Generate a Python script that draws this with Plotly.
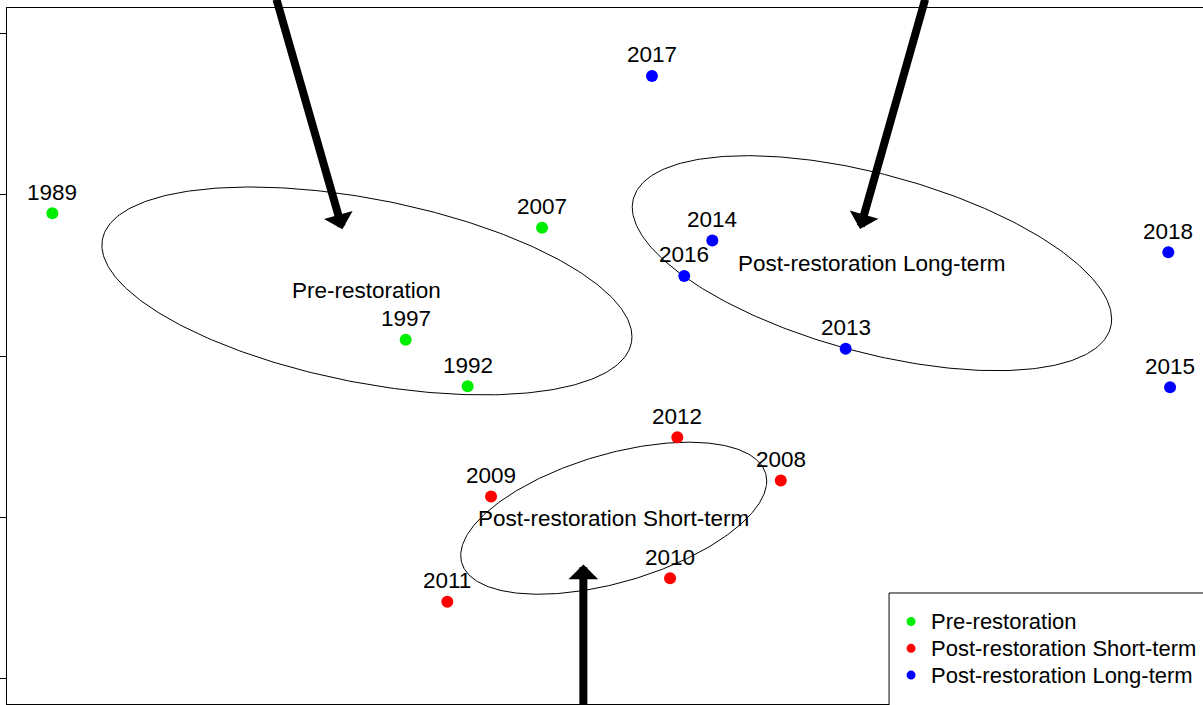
import numpy as np
import plotly.graph_objects as go

# ---------------- data (NMDS-like ordination scores) ----------------
groups = ["Pre-restoration", "Post-restoration Short-term", "Post-restoration Long-term"]
colors = ["#00ee00", "#ff0000", "#0000ff"]

pre_years = ["1989", "2007", "1997", "1992"]
pre_x = [-3.424, -0.390, -1.235, -0.851]
pre_y = [0.885, 0.796, 0.102, -0.186]

short_years = ["2012", "2008", "2010", "2009", "2011"]
short_x = [0.448, 1.089, 0.403, -0.706, -0.977]
short_y = [-0.502, -0.771, -1.376, -0.870, -1.521]

long_years = ["2017", "2014", "2016", "2013", "2018", "2015"]
long_x = [0.291, 0.665, 0.491, 1.491, 3.490, 3.501]
long_y = [1.736, 0.716, 0.497, 0.046, 0.644, -0.193]

# ellipse parameters: centre x, centre y, sd x, sd y, correlation
ell_cx = [-1.475, 0.054, 1.654]
ell_cy = [0.404, -1.004, 0.576]
ell_sx = [1.642, 0.948, 1.485]
ell_sy = [0.644, 0.471, 0.666]
ell_r = [-0.44, 0.49, -0.52]

# arrows: tail (x0, y0) -> head (x1, y1)
arrow_x0 = [-2.038, 1.986, -0.134]
arrow_y0 = [2.219, 2.219, -2.172]
arrow_x1 = [-1.627, 1.580, -0.134]
arrow_y1 = [0.786, 0.788, -1.290]

y_ticks = [-2, -1, 0, 1, 2]
x_range = [-3.705, 3.705]
y_range = [-2.155, 2.157]

FONT = "Liberation Sans, Arial, sans-serif"
FS = 22.5
LEG_FS = 22

fig = go.Figure()

series = [(pre_x, pre_y, pre_years), (short_x, short_y, short_years), (long_x, long_y, long_years)]

# ellipses
t = np.linspace(0, 2 * np.pi, 361)
for i in range(3):
    ex = ell_cx[i] + ell_sx[i] * np.cos(t)
    ey = ell_cy[i] + ell_sy[i] * (ell_r[i] * np.cos(t) + np.sqrt(1 - ell_r[i] ** 2) * np.sin(t))
    fig.add_trace(go.Scatter(x=ex, y=ey, mode="lines", line=dict(color="black", width=1),
                             showlegend=False, hoverinfo="skip"))

# points
for (xs, ys, yrs), name, col in zip(series, groups, colors):
    fig.add_trace(go.Scatter(x=xs, y=ys, mode="markers", name=name, text=yrs,
                             marker=dict(color=col, size=12),
                             showlegend=False, cliponaxis=False))

annotations = []
shapes = []
# year labels
for xs, ys, yrs in series:
    for x, y, yr in zip(xs, ys, yrs):
        annotations.append(dict(x=x, y=y, xref="x", yref="y", text=yr, showarrow=False,
                                yshift=21, font=dict(family=FONT, size=FS, color="black")))
# group labels at ellipse centres
for i in range(3):
    annotations.append(dict(x=ell_cx[i], y=ell_cy[i], xref="x", yref="y", text=groups[i],
                            showarrow=False, font=dict(family=FONT, size=FS, color="black")))
# arrows
for x0, y0, x1, y1 in zip(arrow_x0, arrow_y0, arrow_x1, arrow_y1):
    annotations.append(dict(x=x1, y=y1, ax=x0, ay=y0, xref="x", yref="y", axref="x", ayref="y",
                            text="", showarrow=True, arrowhead=1, arrowsize=0.62,
                            arrowwidth=8, arrowcolor="black", standoff=0))

# legend box (bottom-right, partly cut off like the original)
leg_left, leg_top = 0.7375, 0.1595
leg_step = 0.0385
shapes.append(dict(type="rect", xref="paper", yref="paper", x0=leg_left, x1=1.05,
                   y0=-0.02, y1=leg_top, line=dict(color="black", width=1), fillcolor="white",
                   layer="above"))
for k, (name, col) in enumerate(zip(groups, colors)):
    yk = leg_top - 0.041 - k * leg_step
    shapes.append(dict(type="circle", xref="paper", yref="paper", xsizemode="pixel",
                       ysizemode="pixel", xanchor=leg_left + 0.0184, yanchor=yk,
                       x0=-4.5, x1=4.5, y0=-4.5, y1=4.5, fillcolor=col,
                       line=dict(color=col, width=0), layer="above"))
    annotations.append(dict(x=leg_left + 0.0335, y=yk, xref="paper", yref="paper", text=name,
                            xanchor="left", yanchor="middle", showarrow=False,
                            font=dict(family=FONT, size=LEG_FS, color="black")))

fig.update_layout(
    width=1203, height=705,
    margin=dict(l=7, r=0, t=8, b=1),
    paper_bgcolor="white", plot_bgcolor="white",
    font=dict(family=FONT, size=FS, color="black"),
    showlegend=False,
    annotations=annotations,
    shapes=shapes,
    xaxis=dict(range=x_range, showgrid=False, zeroline=False, showline=True, mirror=True,
               linecolor="black", linewidth=1, ticks="", showticklabels=False),
    yaxis=dict(range=y_range, showgrid=False, zeroline=False, showline=True, mirror=False,
               linecolor="black", linewidth=1, ticks="outside", ticklen=7, tickcolor="black",
               tickvals=y_ticks, showticklabels=False),
)

fig.write_html("out.html", config={"displayModeBar": False},
               post_script="document.body.style.margin='0';")
